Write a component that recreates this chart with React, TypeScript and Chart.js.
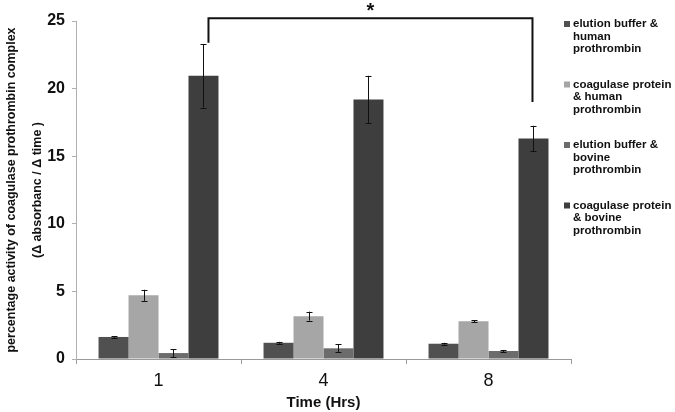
import React, { useEffect, useRef } from "react";
import { Chart, registerables } from "chart.js";

Chart.register(...registerables);

// ---- data ----
const categories = ["1", "4", "8"];
const seriesLegendLines = [
  ["elution buffer &", "human", "prothrombin"],
  ["coagulase protein", "& human", "prothrombin"],
  ["elution buffer &", "bovine", "prothrombin"],
  ["coagulase protein", "& bovine", "prothrombin"],
];
const bufferHumanValues = [1.63, 1.2, 1.13];
const bufferHumanErrors = [0.05, 0.07, 0.07];
const coagHumanValues = [4.71, 3.17, 2.79];
const coagHumanErrors = [0.41, 0.33, 0.08];
const bufferBovineValues = [0.44, 0.79, 0.59];
const bufferBovineErrors = [0.3, 0.3, 0.08];
const coagBovineValues = [20.95, 19.2, 16.3];
const coagBovineErrors = [2.35, 1.75, 0.95];
const seriesColors = ["#505050", "#a6a6a6", "#6c6c6c", "#3e3e3e"];
const yMin = 0;
const yMax = 25;
const yStep = 5;
const xTitle = "Time (Hrs)";
const yTitle = ["percentage activity of coagulase prothrombin complex", "(\u0394 absorbanc / \u0394 time )"];
// significance bracket (data units) between 1 h and 8 h coagulase+bovine bars
const bracketTopValue = 25.2;
const bracketLeftBottomValue = 23.4;
const bracketRightBottomValue = 19.0;
const bracketLabel = "*";

const FONT = "'Liberation Sans', Arial, Helvetica, sans-serif";

const valueSets = [bufferHumanValues, coagHumanValues, bufferBovineValues, coagBovineValues];
const errorSets = [bufferHumanErrors, coagHumanErrors, bufferBovineErrors, coagBovineErrors];

const errorBarPlugin = {
  id: "errorBars",
  afterDatasetsDraw(chart: any) {
    const ctx = chart.ctx;
    const y = chart.scales.y;
    ctx.save();
    ctx.strokeStyle = "#111";
    ctx.lineWidth = 1;
    chart.data.datasets.forEach((ds: any, i: number) => {
      const meta = chart.getDatasetMeta(i);
      meta.data.forEach((el: any, j: number) => {
        const v = ds.data[j];
        const e = ds.errors[j];
        const x = Math.round(el.x) + 0.5;
        const yt = y.getPixelForValue(v + e);
        const yb = y.getPixelForValue(Math.max(v - e, 0));
        ctx.beginPath();
        ctx.moveTo(x, yt);
        ctx.lineTo(x, yb);
        ctx.moveTo(x - 3, Math.round(yt) + 0.5);
        ctx.lineTo(x + 3, Math.round(yt) + 0.5);
        ctx.moveTo(x - 3, Math.round(yb) + 0.5);
        ctx.lineTo(x + 3, Math.round(yb) + 0.5);
        ctx.stroke();
      });
    });
    ctx.restore();
  },
};

const bracketPlugin = {
  id: "bracket",
  afterDraw(chart: any) {
    const ctx = chart.ctx;
    const y = chart.scales.y;
    const meta = chart.getDatasetMeta(3);
    const left = meta.data[0];
    const right = meta.data[2];
    if (!left || !right) return;
    const xl = left.x + 5;
    const xr = right.x - 1;
    const yt = y.getPixelForValue(bracketTopValue);
    ctx.save();
    ctx.strokeStyle = "#111";
    ctx.lineWidth = 2;
    ctx.beginPath();
    ctx.moveTo(xl, y.getPixelForValue(bracketLeftBottomValue));
    ctx.lineTo(xl, yt);
    ctx.lineTo(xr, yt);
    ctx.lineTo(xr, y.getPixelForValue(bracketRightBottomValue));
    ctx.stroke();
    ctx.fillStyle = "#111";
    ctx.font = `bold 20px ${FONT}`;
    ctx.textAlign = "center";
    ctx.textBaseline = "middle";
    ctx.fillText(bracketLabel, (xl + xr) / 2, yt - 7);
    ctx.restore();
  },
};

const legendPlugin = {
  id: "sideLegend",
  afterDraw(chart: any) {
    const ctx = chart.ctx;
    const x0 = chart.width - 111;
    const yStart = 24;
    const itemGap = 60.5;
    const lineGap = 12.5;
    ctx.save();
    ctx.font = `bold 11.5px ${FONT}`;
    ctx.textAlign = "left";
    ctx.textBaseline = "middle";
    chart.data.datasets.forEach((ds: any, i: number) => {
      const yy = yStart + i * itemGap;
      ctx.fillStyle = ds.backgroundColor;
      ctx.fillRect(x0, yy - 3, 6, 6);
      ctx.fillStyle = "#111";
      ds.legendLines.forEach((line: string, k: number) => {
        ctx.fillText(line, x0 + 9, yy + k * lineGap);
      });
    });
    ctx.restore();
  },
};

export default function App() {
  const ref = useRef<HTMLCanvasElement>(null);
  useEffect(() => {
    document.body.style.margin = "0";
    if (!ref.current) return;
    const chart = new Chart(ref.current, {
      type: "bar",
      data: {
        labels: categories,
        datasets: valueSets.map((vals, i) => ({
          label: seriesLegendLines[i].join(" "),
          legendLines: seriesLegendLines[i],
          data: vals,
          errors: errorSets[i],
          backgroundColor: seriesColors[i],
          borderWidth: 0,
          categoryPercentage: 0.727,
          barPercentage: 1,
        })) as any,
      },
      options: {
        responsive: false,
        animation: false,
        layout: { padding: { top: 21, right: 104, left: 0, bottom: 0 } },
        plugins: {
          legend: { display: false },
          tooltip: { enabled: false },
        },
        scales: {
          x: {
            grid: { display: true, drawOnChartArea: false, drawTicks: true, tickLength: 5, color: "#9a9a9a", offset: true },
            border: { color: "#9a9a9a", width: 1 },
            ticks: { color: "#111", font: { family: FONT, size: 18 }, padding: 6 },
            title: { display: true, text: xTitle, color: "#111", font: { family: FONT, size: 15, weight: "bold" }, padding: { top: 0, bottom: 0 } },
            afterFit: (s: any) => { s.height = 53; },
          },
          y: {
            min: yMin,
            max: yMax,
            ticks: { stepSize: yStep, color: "#111", font: { family: FONT, size: 16, weight: "bold" }, padding: 7 },
            grid: { display: true, drawOnChartArea: false, drawTicks: true, tickLength: 4, color: "#b0b0b0" },
            border: { color: "#b0b0b0", width: 1 },
            title: { display: true, text: yTitle, color: "#111", font: { family: FONT, size: 12.5, weight: "bold", lineHeight: 2.1 }, padding: { top: -2, bottom: 0 } },
            afterFit: (s: any) => { s.width = 76; },
          },
        },
      } as any,
      plugins: [errorBarPlugin, bracketPlugin, legendPlugin],
    });
    return () => chart.destroy();
  }, []);
  return (
    <div style={{ width: 675, height: 412, background: "#fff" }}>
      <canvas ref={ref} width={675} height={412} style={{ display: "block" }} />
    </div>
  );
}
